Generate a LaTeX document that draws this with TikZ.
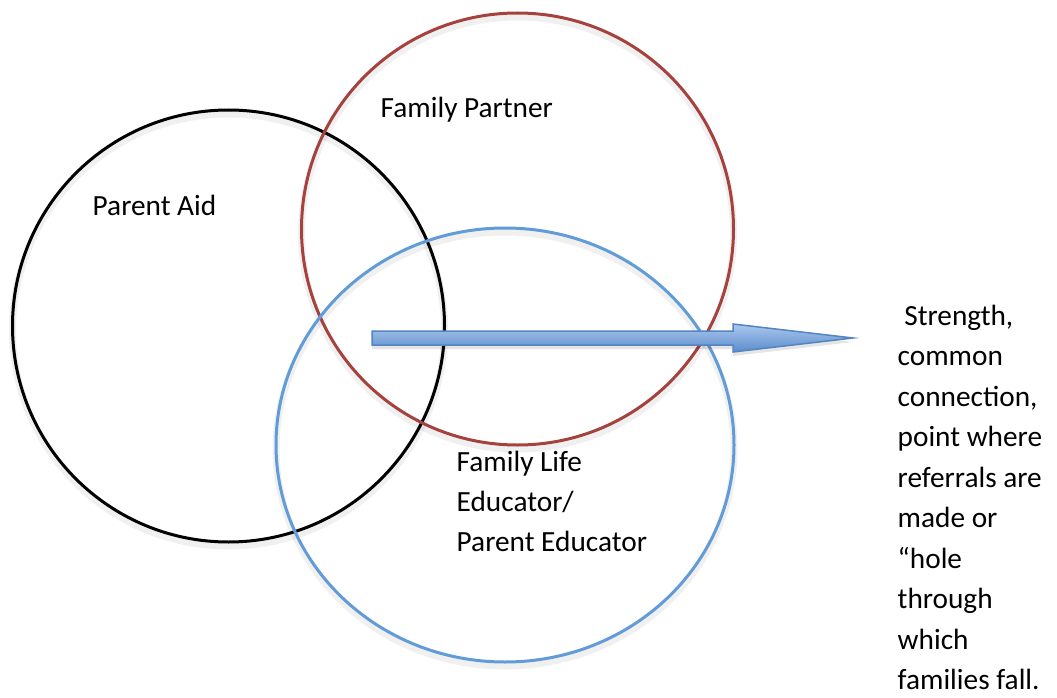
\documentclass[tikz,border=0pt]{standalone}
\usepackage{fontspec}
\setmainfont{Carlito}
\definecolor{pred}{RGB}{166,66,62}
\definecolor{pblue}{RGB}{98,156,216}
\definecolor{arrtop}{RGB}{170,200,238}
\definecolor{arrbot}{RGB}{92,140,204}
\definecolor{arrline}{RGB}{84,132,194}
\tikzset{
  ring/.style={line width=3pt},
  ringshadow/.style={line width=7pt, black, opacity=0.06},
  lbl/.style={anchor=base west, inner sep=0pt, font=\fontsize{29.3}{40.5}\selectfont},
}
\begin{document}
\begin{tikzpicture}[x=1pt,y=-1pt]
\useasboundingbox (0,0) rectangle (1057,698);
% shadows
\draw[ringshadow] (228.5,330) circle[radius=216pt];
\draw[ringshadow] (517.5,233) circle[radius=216pt];
\draw[ringshadow] (505,449) ellipse[x radius=229pt, y radius=217pt];
% circles
\draw[ring, black] (228.5,326) circle[radius=216pt];
\draw[ring, pred] (517.5,229) circle[radius=216pt];
\draw[ring, pblue] (505,445) ellipse[x radius=229pt, y radius=217pt];
% arrow
\coordinate (as) at (372,338);
\coordinate (ae) at (853,338);
\fill[black, opacity=0.10]
  ([yshift=-4pt]as) ++(0,-7) -- ++(361,0) -- ++(0,-7) -- ([yshift=-4pt]ae) -- ++(-120,14) -- ++(0,-7) -- ++(-361,0) -- cycle;
\draw[arrline, line width=1.5pt, top color=arrtop, bottom color=arrbot, line join=miter]
  (as) ++(0,-7) -- ++(361,0) -- ++(0,-7) -- (ae) -- ++(-120,14) -- ++(0,-7) -- ++(-361,0) -- cycle;
% labels
\node[lbl] (pa) at (92.5,215) {Parent Aid};
\node[lbl] (fp) at (380.5,118) {Family Partner};
\node[lbl] (fle) at (456.5,471.5) {\parbox[t]{250pt}{\fontsize{29.3}{40}\selectfont Family Life\\Educator/\\Parent Educator}};
\node[lbl] (st) at (897.5,325) {\parbox[t]{170pt}{\fontsize{29.3}{40.5}\selectfont \ Strength,\\common\\connection,\\point where\\referrals are\\made or\\“hole\\through\\which\\families fall.}};
\end{tikzpicture}
\end{document}
